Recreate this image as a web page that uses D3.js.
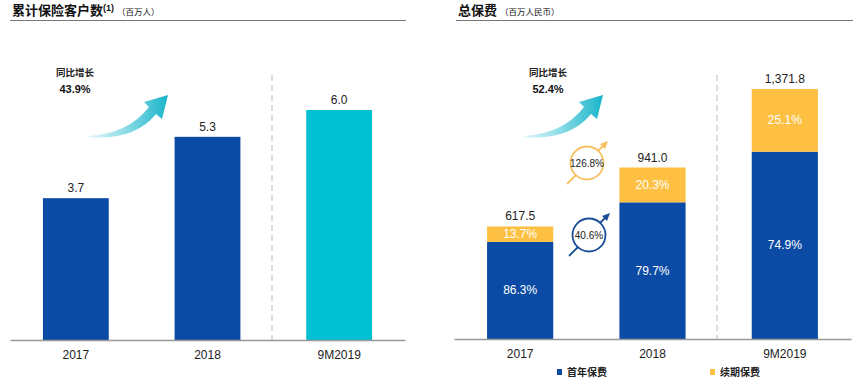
<!DOCTYPE html>
<html>
  <head>
    <meta charset="utf-8" />
    <title>保险客户与总保费</title>
    <style>
      body { margin: 0; background: #fff; }
      text { font-family: Arial, "Liberation Sans", sans-serif; }
      .cjk { font-family: "Noto Sans CJK SC", sans-serif; }
    </style>
  </head>
  <body>
    <div id="plot"></div>
    <script src="https://d3js.org/d3.v7.min.js"></script>
    <script>
      // data
      const years = ["2017", "2018", "9M2019"];
      const customers = [3.7, 5.3, 6.0];
      const premiumTotal = [617.5, 941.0, 1371.8];
      const premiumTotalLabels = ["617.5", "941.0", "1,371.8"];
      const firstYearShare = [86.3, 79.7, 74.9];
      const renewalShare = [13.7, 20.3, 25.1];
      const customerGrowth = "43.9%";
      const premiumGrowth = "52.4%";
      const renewalGrowth = "126.8%";
      const firstYearGrowth = "40.6%";

      const W = 864, H = 383;
      const blue = "#0b4ba5", cyan = "#00c0d1", yellow = "#fec042";

      const svg = d3.select("#plot").append("svg")
        .attr("width", W).attr("height", H);

      const defs = svg.append("defs");
      const grad = defs.append("linearGradient").attr("id", "arrowGrad")
        .attr("x1", "0%").attr("y1", "0%").attr("x2", "100%").attr("y2", "0%");
      grad.append("stop").attr("offset", "0%").attr("stop-color", "#e4f8fb");
      grad.append("stop").attr("offset", "45%").attr("stop-color", "#8fdde8");
      grad.append("stop").attr("offset", "100%").attr("stop-color", "#18b4ca");

      // panel title + rule
      function title(x0, x1, main, sup, unit) {
        const t = svg.append("text").attr("class", "cjk").attr("x", x0).attr("y", 15)
          .attr("font-size", 13).attr("font-weight", 700).attr("fill", "#111");
        t.append("tspan").text(main);
        if (sup) t.append("tspan").attr("dy", -4).attr("font-size", 9)
          .attr("font-family", "Arial").text(sup);
        t.append("tspan").attr("dy", sup ? 4 : 0).attr("dx", 3).attr("font-size", 8.5)
          .attr("font-weight", 400).text(unit);
        svg.append("line").attr("x1", x0 - 2).attr("x2", x1).attr("y1", 20.5).attr("y2", 20.5)
          .attr("stroke", "#777").attr("stroke-width", 1);
      }
      title(12, 406, "累计保险客户数", "(1)", "（百万人）");
      title(458, 853, "总保费", null, "（百万人民币）");

      // growth label + curved arrow (ax, ay = arrow tail)
      function growthArrow(lx, ly, ax, ay, label, value) {
        svg.append("text").attr("class", "cjk").attr("x", lx).attr("y", ly)
          .attr("text-anchor", "middle").attr("font-size", 9.5).attr("font-weight", 700)
          .attr("fill", "#222").text(label);
        svg.append("text").attr("x", lx).attr("y", ly + 17)
          .attr("text-anchor", "middle").attr("font-size", 11).attr("font-weight", 700)
          .attr("fill", "#111").text(value);
        const p = d3.path();
        p.moveTo(ax, ay);
        p.quadraticCurveTo(ax + 40, ay - 2, ax + 61, ay - 29);
        p.lineTo(ax + 56, ay - 34);
        p.lineTo(ax + 80, ay - 41);
        p.lineTo(ax + 74, ay - 17);
        p.lineTo(ax + 68, ay - 22);
        p.quadraticCurveTo(ax + 46, ay + 5, ax, ay + 1);
        p.closePath();
        svg.append("path").attr("d", p.toString()).attr("fill", "url(#arrowGrad)");
      }

      // ---------- left chart ----------
      const base = 340;
      const xL = d3.scaleBand().domain(years).range([10, 405]).paddingInner(0.5).paddingOuter(0.25);
      const yL = d3.scaleLinear().domain([0, 6]).range([base, 110]);

      svg.append("g").selectAll("rect").data(customers).join("rect")
        .attr("x", (d, i) => xL(years[i]))
        .attr("width", xL.bandwidth())
        .attr("y", d => yL(d))
        .attr("height", d => yL(0) - yL(d))
        .attr("fill", (d, i) => i === 2 ? cyan : blue);
      svg.append("g").selectAll("text").data(customers).join("text")
        .attr("x", (d, i) => xL(years[i]) + xL.bandwidth() / 2)
        .attr("y", d => yL(d) - 6)
        .attr("text-anchor", "middle").attr("font-size", 12).attr("fill", "#222")
        .text(d => d.toFixed(1));

      const axL = svg.append("g").attr("transform", `translate(0,${base})`)
        .call(d3.axisBottom(xL).tickSize(0).tickPadding(10));
      axL.select(".domain").attr("stroke", "#999").attr("stroke-width", 1.5);
      axL.selectAll("text").attr("font-size", 12).attr("fill", "#222")
        .attr("font-family", "Arial");

      svg.append("line").attr("x1", 272).attr("x2", 272).attr("y1", 75).attr("y2", base)
        .attr("stroke", "#bbb").attr("stroke-dasharray", "6,4");

      growthArrow(75, 76, 88, 136, "同比增长", customerGrowth);

      // ---------- right chart ----------
      const xR = d3.scaleBand().domain(years).range([454, 851]).paddingInner(0.5).paddingOuter(0.25);
      const yR = d3.scaleLinear().domain([0, 1371.8]).range([base - 1, 89]);

      const stacks = years.map((y, i) => {
        const first = premiumTotal[i] * firstYearShare[i] / 100;
        return { year: y, first, total: premiumTotal[i], i };
      });

      const gR = svg.append("g");
      gR.selectAll("rect.first").data(stacks).join("rect").attr("class", "first")
        .attr("x", d => xR(d.year)).attr("width", xR.bandwidth())
        .attr("y", d => yR(d.first)).attr("height", d => yR(0) - yR(d.first))
        .attr("fill", blue);
      gR.selectAll("rect.renew").data(stacks).join("rect").attr("class", "renew")
        .attr("x", d => xR(d.year)).attr("width", xR.bandwidth())
        .attr("y", d => yR(d.total)).attr("height", d => yR(d.first) - yR(d.total))
        .attr("fill", yellow);
      gR.selectAll("text.fl").data(stacks).join("text").attr("class", "fl")
        .attr("x", d => xR(d.year) + xR.bandwidth() / 2)
        .attr("y", d => (yR(d.first) + yR(0)) / 2 + 4)
        .attr("text-anchor", "middle").attr("font-size", 12).attr("fill", "#fff")
        .text(d => firstYearShare[d.i].toFixed(1) + "%");
      gR.selectAll("text.rl").data(stacks).join("text").attr("class", "rl")
        .attr("x", d => xR(d.year) + xR.bandwidth() / 2)
        .attr("y", d => (yR(d.first) + yR(d.total)) / 2 + 4)
        .attr("text-anchor", "middle").attr("font-size", 12).attr("fill", "#fff")
        .text(d => renewalShare[d.i].toFixed(1) + "%");
      gR.selectAll("text.tl").data(stacks).join("text").attr("class", "tl")
        .attr("x", d => xR(d.year) + xR.bandwidth() / 2)
        .attr("y", d => yR(d.total) - 6)
        .attr("text-anchor", "middle").attr("font-size", 12).attr("fill", "#222")
        .text(d => premiumTotalLabels[d.i]);

      const axR = svg.append("g").attr("transform", `translate(0,${base - 1})`)
        .call(d3.axisBottom(xR).tickSize(0).tickPadding(10));
      axR.select(".domain").attr("stroke", "#999").attr("stroke-width", 1.5);
      axR.selectAll("text").attr("font-size", 12).attr("fill", "#222")
        .attr("font-family", "Arial");

      svg.append("line").attr("x1", 717).attr("x2", 717).attr("y1", 75).attr("y2", base - 1)
        .attr("stroke", "#bbb").attr("stroke-dasharray", "6,4");

      growthArrow(548, 76, 523, 136, "同比增长", premiumGrowth);

      // circle growth badges
      function badge(cx, cy, color, value) {
        const g = svg.append("g");
        g.append("line").attr("x1", cx - 20).attr("y1", cy + 21).attr("x2", cx - 11).attr("y2", cy + 12)
          .attr("stroke", color).attr("stroke-width", 1.8);
        g.append("line").attr("x1", cx + 11).attr("y1", cy - 12).attr("x2", cx + 18).attr("y2", cy - 19)
          .attr("stroke", color).attr("stroke-width", 1.8);
        g.append("path").attr("d", `M${cx + 21},${cy - 22} L${cx + 13},${cy - 19} L${cx + 18},${cy - 14} Z`)
          .attr("fill", color);
        g.append("circle").attr("cx", cx).attr("cy", cy).attr("r", 16.5)
          .attr("fill", "#fff").attr("stroke", color).attr("stroke-width", 1.8);
        g.append("text").attr("x", cx).attr("y", cy + 3.5).attr("text-anchor", "middle")
          .attr("font-size", 10).attr("fill", "#222").text(value);
      }
      badge(587, 163, "#f7c160", renewalGrowth);
      badge(589, 235, "#1a4f96", firstYearGrowth);

      // legend
      const legend = [["首年保费", blue, 557], ["续期保费", yellow, 710]];
      legend.forEach(([name, c, x]) => {
        svg.append("rect").attr("x", x).attr("y", 369).attr("width", 5).attr("height", 6).attr("fill", c);
        svg.append("text").attr("class", "cjk").attr("x", x + 10).attr("y", 376)
          .attr("font-size", 10).attr("font-weight", 700).attr("fill", "#222").text(name);
      });
    </script>
  </body>
</html>
